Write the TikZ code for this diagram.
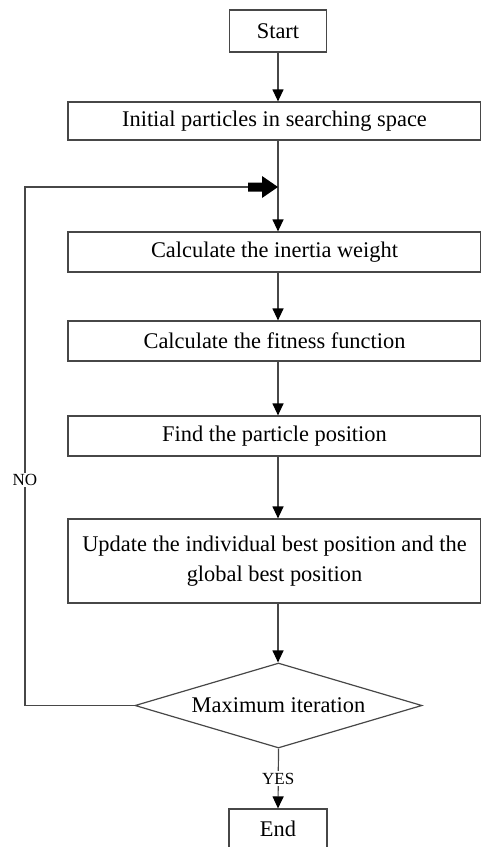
\documentclass[tikz,border=0pt]{standalone}
\usepackage{fontspec}
\setmainfont{Liberation Serif}
\usetikzlibrary{arrows.meta,shapes.geometric}
\begin{document}
\begin{tikzpicture}[x=1pt,y=-1pt,
  every node/.style={font=\fontsize{22.4}{30}\selectfont, text=black},
  ln/.style={draw=black!72, line width=1.2pt},
  box/.style={ln, rectangle, inner sep=0pt, align=center},
  arr/.style={ln, -{Triangle[length=12pt,width=11pt,color=black]}},
  lbl/.style={font=\fontsize{17}{20}\selectfont, fill=white, inner sep=1.5pt}]
\useasboundingbox (0,0) rectangle (481,847);
% nodes
\node[box, minimum width=97pt, minimum height=42pt] (start) at (278,31) {Start};
\node[box, minimum width=413pt, minimum height=38pt] (init) at (274.5,121) {Initial particles in searching space};
\node[box, minimum width=413pt, minimum height=40pt] (iw) at (274.5,252) {Calculate the inertia weight};
\node[box, minimum width=413pt, minimum height=40pt] (ff) at (274.5,341) {Calculate the fitness function};
\node[box, minimum width=413pt, minimum height=40pt] (pp) at (274.5,436) {Find the particle position};
\node[box, minimum width=413pt, minimum height=84pt] (up) at (274.5,561) {Update the individual best position and the\\global best position};
\node[ln, diamond, aspect=3.38, inner sep=0pt, minimum width=287pt, minimum height=85pt] (mx) at (278.5,705.5) {Maximum iteration};
\node[box, minimum width=98pt, minimum height=40pt] (en) at (278,829) {End};
% junction coordinates
\coordinate (j) at (278,187);
\coordinate (lc) at (25,187);
\coordinate (ab) at (248,187);
% main connectors
\draw[arr] (start.south) -- (start.south |- init.north);
\draw[ln] (start.south |- init.south) -- (j);
\draw[arr] (j) -- (j |- iw.north);
\draw[arr] (j |- iw.south) -- (j |- ff.north);
\draw[arr] (j |- ff.south) -- (j |- pp.north);
\draw[arr] (j |- pp.south) -- (j |- up.north);
\draw[arr] (j |- up.south) -- (j |- mx.north);
\draw[arr] (mx.south) -- node[lbl, pos=0.5] {YES} (en.north);
% loop back
\draw[ln] (mx.west) -- (mx.west -| lc) -- node[lbl, pos=0.5, yshift=-34pt] {NO} (lc) -- (ab);
\fill[black] (ab) ++(0,-4.5) -- ++(14,0) -- ++(0,-6.5) -- (j) -- ++(-16,11) -- ++(0,-6.5) -- ++(-14,0) -- cycle;
\end{tikzpicture}
\end{document}
